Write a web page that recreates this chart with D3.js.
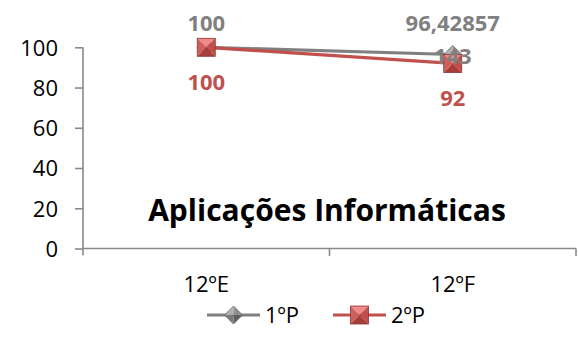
<!DOCTYPE html>
<html>
<head>
<meta charset="utf-8">
<script src="https://cdn.jsdelivr.net/npm/d3@7"></script>
<style>
  html, body { margin: 0; padding: 0; background: #fff; }
  svg { display: block; font-family: "Open Sans", sans-serif; }
</style>
</head>
<body>
<svg id="chart" width="578" height="339"></svg>
<script>
const categories = ["12ºE", "12ºF"];
const seriesNames = ["1ºP", "2ºP"];
const series1 = [100, 96.42857143];
const series2 = [100, 92];
const yTicks = [0, 20, 40, 60, 80, 100];
const title = "Aplicações Informáticas";

const grayLine = "#808080";
const redLine = "#C0504D";
const grayText = "#808080";
const redText = "#C0504D";
const axisColor = "#898989";

const svg = d3.select("#chart");
const x = d3.scaleBand().domain(categories).range([83, 576]).padding(0);
const y = d3.scaleLinear().domain([0, 100]).range([248.5, 47.3]);
const cx = c => x(c) + x.bandwidth() / 2;

// Y axis
const yAxis = svg.append("g").attr("transform", "translate(83,0)")
  .call(d3.axisLeft(y).tickValues(yTicks).tickSize(8).tickPadding(17).tickFormat(d3.format("d")));
yAxis.select(".domain").attr("stroke", axisColor).attr("stroke-width", 1.6).attr("d", `M0,${y(100)}V${y(0) + 7}`);
yAxis.selectAll(".tick line").attr("stroke", axisColor).attr("stroke-width", 1.6);
yAxis.selectAll(".tick text").attr("fill", "#000").style("font-size", "22px").style("font-family", "Open Sans").attr("dy", "0.36em");

// X axis
const xAxis = svg.append("g").attr("transform", `translate(0,${y(0)})`);
xAxis.append("line").attr("x1", 83).attr("x2", 576).attr("y1", 0).attr("y2", 0)
  .attr("stroke", axisColor).attr("stroke-width", 1.6);
const boundaries = categories.map(c => x(c)).concat([x(categories[categories.length - 1]) + x.bandwidth()]);
xAxis.selectAll("line.tk").data(boundaries.slice(1)).join("line").attr("class", "tk")
  .attr("x1", d => d).attr("x2", d => d).attr("y1", 0).attr("y2", 7.5)
  .attr("stroke", axisColor).attr("stroke-width", 1.6);
xAxis.selectAll("text").data(categories).join("text")
  .attr("x", d => cx(d)).attr("y", 43).attr("text-anchor", "middle")
  .style("font-size", "22px").attr("fill", "#000").text(d => d);

// Title
svg.append("text").attr("x", 327).attr("y", 221).attr("text-anchor", "middle")
  .style("font-size", "30px").style("font-weight", "bold").attr("fill", "#000").text(title);

// markers
function diamond(g, s) {
  const h = s / 2;
  const tris = [
    [[0, -h], [-h, 0], "#B0B0B0"],
    [[0, -h], [h, 0], "#909090"],
    [[h, 0], [0, h], "#5E5E5E"],
    [[0, h], [-h, 0], "#7A7A7A"]
  ];
  tris.forEach(t => g.append("path").attr("d", `M0,0L${t[0][0]},${t[0][1]}L${t[1][0]},${t[1][1]}Z`).attr("fill", t[2]));
  g.append("path").attr("d", `M0,${-h}L${h},0L0,${h}L${-h},0Z`).attr("fill", "none").attr("stroke", "#6A6A6A").attr("stroke-width", 0.8);
}
function square(g, s) {
  const h = s / 2;
  const tris = [
    [[-h, -h], [h, -h], "#EE8A87"],
    [[h, -h], [h, h], "#C24E4B"],
    [[h, h], [-h, h], "#A63E3B"],
    [[-h, h], [-h, -h], "#CF5F5C"]
  ];
  tris.forEach(t => g.append("path").attr("d", `M0,0L${t[0][0]},${t[0][1]}L${t[1][0]},${t[1][1]}Z`).attr("fill", t[2]));
  g.append("rect").attr("x", -h).attr("y", -h).attr("width", s).attr("height", s)
    .attr("fill", "none").attr("stroke", "#8E3532").attr("stroke-width", 0.8);
}

const line = d3.line().x((d, i) => cx(categories[i])).y(d => y(d));
svg.append("path").datum(series1).attr("d", line).attr("fill", "none").attr("stroke", grayLine).attr("stroke-width", 3.2);
svg.append("path").datum(series2).attr("d", line).attr("fill", "none").attr("stroke", redLine).attr("stroke-width", 3.2);

series1.forEach((v, i) => diamond(svg.append("g").attr("transform", `translate(${cx(categories[i])},${y(v)})`), 18));
series2.forEach((v, i) => square(svg.append("g").attr("transform", `translate(${cx(categories[i])},${y(v)})`), 18));

// data labels
const fmt = v => String(+v.toFixed(8)).replace(".", ",");
series1.forEach((v, i) => {
  const s = fmt(v);
  const lines = s.length > 8 ? [s.slice(0, 8), s.slice(8)] : [s];
  const first = Math.max(y(v) - 16.6 - (lines.length - 1) * 33, 30.7);
  const t = svg.append("text").attr("text-anchor", "middle").style("font-size", "22px")
    .style("font-weight", "bold").attr("fill", grayText);
  lines.forEach((ln, k) => t.append("tspan").attr("x", cx(categories[i])).attr("y", first + k * 33.3).text(ln));
});
series2.forEach((v, i) => {
  svg.append("text").attr("x", cx(categories[i])).attr("y", y(v) + 43)
    .attr("text-anchor", "middle").style("font-size", "22px").style("font-weight", "bold")
    .attr("fill", redText).text(fmt(v));
});

// legend
const leg = [
  { name: seriesNames[0], color: grayLine, x0: 207, marker: diamond },
  { name: seriesNames[1], color: redLine, x0: 333, marker: square }
];
leg.forEach(l => {
  const g = svg.append("g").attr("transform", `translate(${l.x0},315)`);
  g.append("line").attr("x1", 0).attr("x2", 53).attr("stroke", l.color).attr("stroke-width", 3.2);
  l.marker(g.append("g").attr("transform", "translate(26.5,0)"), 18);
  g.append("text").attr("x", 58).attr("y", 0).attr("dy", "0.36em").style("font-size", "22px").attr("fill", "#000").text(l.name);
});
</script>
</body>
</html>
